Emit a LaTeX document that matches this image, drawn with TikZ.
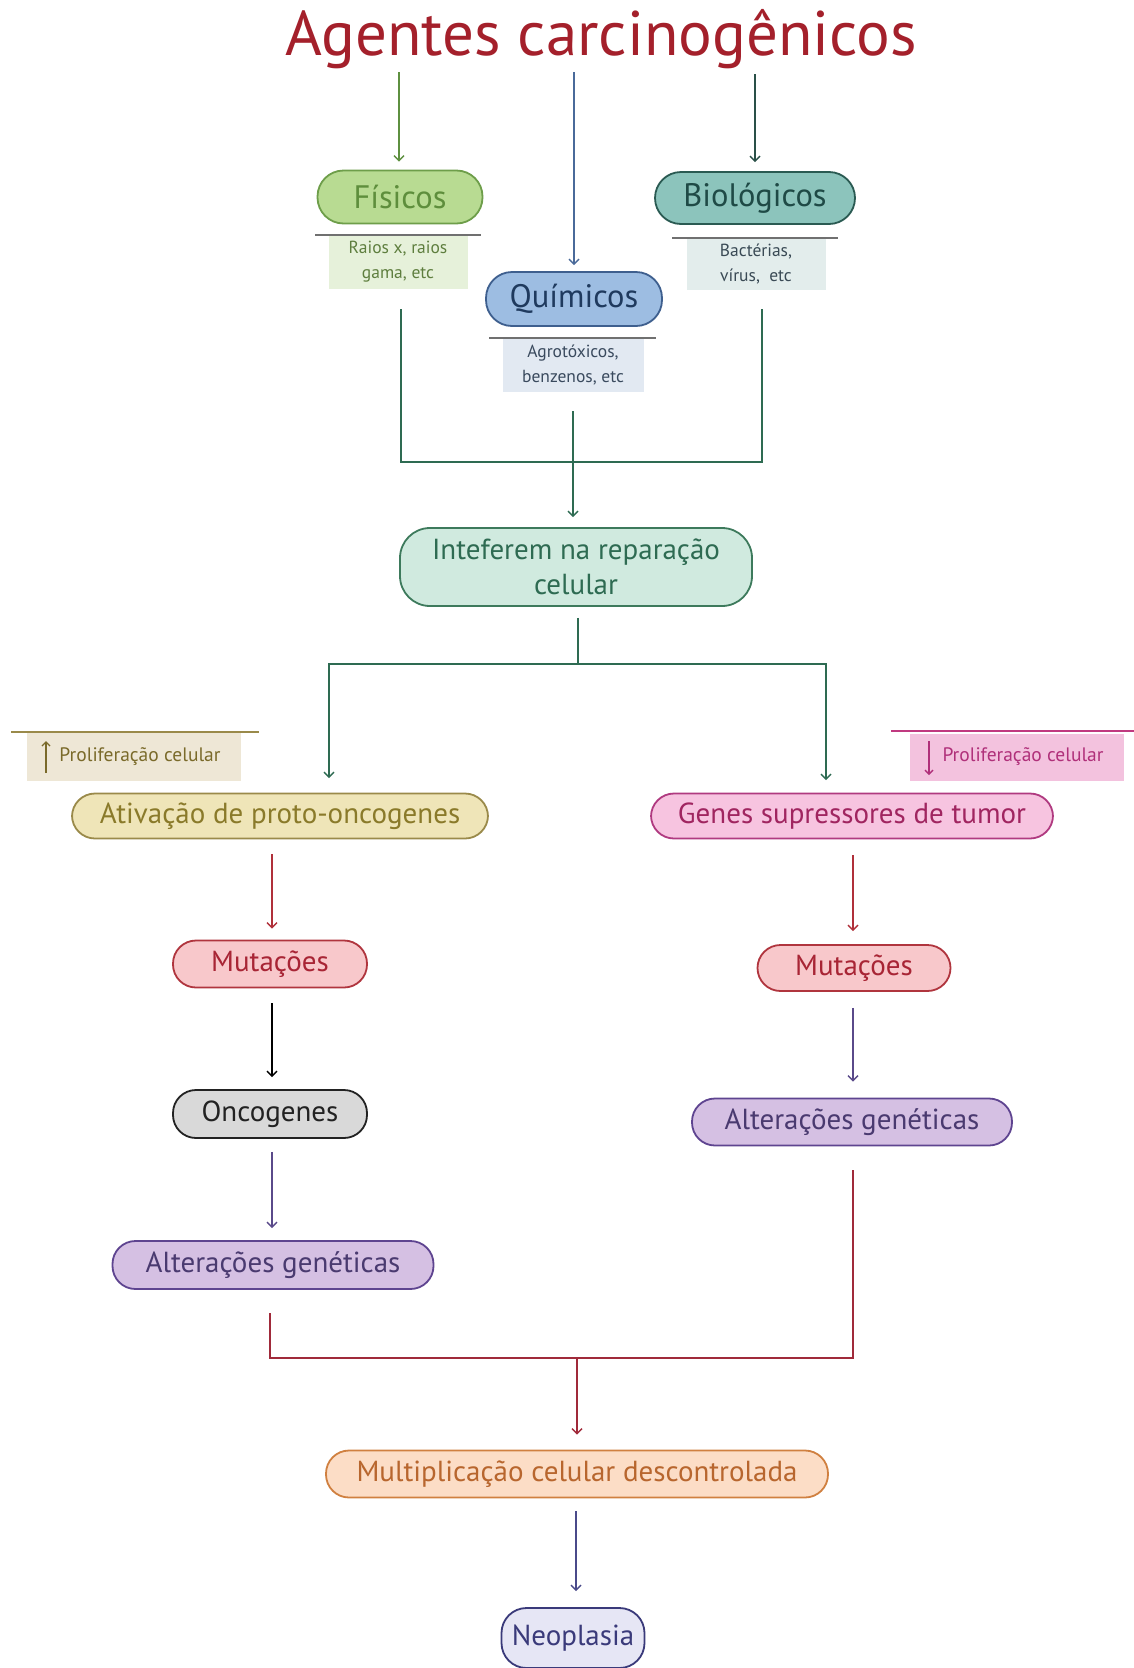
\documentclass[tikz,border=0pt]{standalone}
\usepackage{fontspec}
\setmainfont{PT Sans}
\usetikzlibrary{arrows.meta}
\definecolor{titlec}{HTML}{A4202B}
\definecolor{fisfill}{HTML}{B8DB92}\definecolor{fisdraw}{HTML}{6E9E4A}\definecolor{fistext}{HTML}{5E8E3C}
\definecolor{fisinfo}{HTML}{E6F1DA}\definecolor{fisinfot}{HTML}{5E7E3E}
\definecolor{biofill}{HTML}{8CC4BC}\definecolor{biodraw}{HTML}{2A5A52}\definecolor{biotext}{HTML}{1F4A46}
\definecolor{bioinfo}{HTML}{E3EDEC}\definecolor{bioinfot}{HTML}{3A4A55}
\definecolor{quifill}{HTML}{9DBDE2}\definecolor{quidraw}{HTML}{3E5F8E}\definecolor{quitext}{HTML}{1F3A5E}
\definecolor{quiinfo}{HTML}{E2E9F2}\definecolor{quiinfot}{HTML}{3A4A5E}
\definecolor{barc}{HTML}{707070}
\definecolor{arrA}{HTML}{5E9040}\definecolor{arrB}{HTML}{4A6A9A}\definecolor{arrC}{HTML}{2A5048}
\definecolor{dg}{HTML}{2E6B52}
\definecolor{intfill}{HTML}{D0EADF}\definecolor{intdraw}{HTML}{3D7A5C}
\definecolor{prolL}{HTML}{9A8A4A}\definecolor{prolLf}{HTML}{EEE7D6}\definecolor{prolLt}{HTML}{7A6A2A}
\definecolor{prolR}{HTML}{C03A80}\definecolor{prolRf}{HTML}{F3C2DE}\definecolor{prolRt}{HTML}{B0307A}
\definecolor{ativfill}{HTML}{EFE5B8}\definecolor{ativdraw}{HTML}{9A8A4A}\definecolor{ativtext}{HTML}{8A7A2A}
\definecolor{genfill}{HTML}{F7C4E0}\definecolor{gendraw}{HTML}{B03A80}\definecolor{gentext}{HTML}{A02560}
\definecolor{redarr}{HTML}{B0303A}
\definecolor{mutfill}{HTML}{F8C8CB}\definecolor{mutdraw}{HTML}{B0353E}\definecolor{muttext}{HTML}{A82535}
\definecolor{oncfill}{HTML}{D9D9D9}\definecolor{oncdraw}{HTML}{222222}
\definecolor{purarr}{HTML}{5A4A8A}
\definecolor{altfill}{HTML}{D5C0E3}\definecolor{altdraw}{HTML}{5E4490}\definecolor{alttext}{HTML}{4A3A70}
\definecolor{botline}{HTML}{A02A3A}
\definecolor{multfill}{HTML}{FCDDC6}\definecolor{multdraw}{HTML}{D08040}\definecolor{multtext}{HTML}{B8662E}
\definecolor{neoarr}{HTML}{4A4A8A}
\definecolor{neofill}{HTML}{E6E6F5}\definecolor{neodraw}{HTML}{3A3A7A}
\begin{document}
\begin{tikzpicture}[x=1pt,y=-1pt,
  pill/.style={draw, line width=1.8pt, rounded corners=#1, inner sep=0pt, align=center},
  info/.style={inner sep=0pt, align=center, font=\fontsize{17.5}{25}\selectfont},
  bigf/.style={font=\fontsize{32.5}{34}\selectfont},
  midf/.style={font=\fontsize{29}{35}\selectfont},
  arr/.style={-{Straight Barb[length=5pt,width=10pt,line width=1.4pt]}, line width=1.4pt},
  ln/.style={line width=1.6pt},
  bar/.style={line width=2.2pt}]
\useasboundingbox (0,0) rectangle (1134,1668);
\fill[white] (0,0) rectangle (1134,1668);

% title
\node[text=titlec, font=\fontsize{63}{66}\selectfont, inner sep=0pt] (title) at (601,39) {Agentes carcinogênicos};
\coordinate (tA) at (399,72);
\coordinate (tB) at (574,72);
\coordinate (tC) at (755,74);

% category nodes
\node[pill=26pt, bigf, fill=fisfill, draw=fisdraw, text=fistext, minimum width=165pt, minimum height=53pt] (fis) at (400,197) {Físicos};
\node[pill=26pt, bigf, fill=biofill, draw=biodraw, text=biotext, minimum width=200pt, minimum height=52pt] (bio) at (755,198) {Biológicos};
\node[pill=26pt, bigf, fill=quifill, draw=quidraw, text=quitext, minimum width=176pt, minimum height=54pt] (qui) at (574,299) {Químicos};

% info boxes
\node[info, fill=fisinfo, text=fisinfot, minimum width=139pt, minimum height=53pt] (fisi) at (398,262) {Raios x, raios\\gama, etc};
\node[info, fill=bioinfo, text=bioinfot, minimum width=139pt, minimum height=52pt] (bioi) at (756,264) {Bactérias,\\vírus,\ \ etc};
\node[info, fill=quiinfo, text=quiinfot, minimum width=141pt, minimum height=54pt] (quii) at (573,365) {Agrotóxicos,\\benzenos, etc};
\draw[bar, barc] (fisi.north west) ++(-13,0) -- ++(166,0);
\draw[bar, barc] (bioi.north west) ++(-14,0) -- ++(166,0);
\draw[bar, barc] (quii.north west) ++(-13,0) -- ++(167,0);

% arrows from title
\draw[arr, arrA, shorten >=8pt] (tA) -- (tA |- fis.north);
\draw[arr, arrB, shorten >=6pt] (tB) -- (tB |- qui.north);
\draw[arr, arrC, shorten >=9pt] (tC) -- (tC |- bio.north);

% join to "Inteferem"
\node[pill=30pt, fill=intfill, draw=intdraw, text=dg, midf, minimum width=352pt, minimum height=78pt] (int) at (576,567) {Inteferem na reparação\\celular};
\coordinate (jL) at (401,309);
\coordinate (jR) at (762,309);
\coordinate (jM) at (574,462);
\draw[ln, dg] (jL) |- (jM) -| (jR);
\draw[ln, dg, arr, shorten <=19pt, shorten >=10pt] (quii.south) -- (quii.south |- int.north);

% split
\node[pill=23pt, midf, fill=ativfill, draw=ativdraw, text=ativtext, minimum width=416pt, minimum height=45pt] (ativ) at (280,816) {Ativação de proto-oncogenes};
\node[pill=23pt, midf, fill=genfill, draw=gendraw, text=gentext, minimum width=402pt, minimum height=45pt] (gen) at (852,816) {Genes supressores de tumor};
\coordinate (split) at (578,664);
\coordinate (inL) at (329,778);
\coordinate (inR) at (826,780);
\draw[ln, dg] ([yshift=-11pt]int.south -| split) -- (split);
\draw[dg, arr] (split) -| (inL);
\draw[dg, arr] (split) -| (inR);

% proliferation tags
\node[fill=prolLf, text=prolLt, font=\fontsize{19.5}{21}\selectfont, minimum width=214pt, minimum height=48pt, inner sep=0pt] (tagL) at (134,757) {\hspace*{12pt}Proliferação celular};
\draw[line width=2pt, prolL] (11,732) -- (259,732);
\draw[prolLt, line width=1.6pt, -{Straight Barb[length=4pt,width=8pt,line width=1.4pt]}] (46,773) -- (46,741);
\node[fill=prolRf, text=prolRt, font=\fontsize{19.5}{21}\selectfont, minimum width=214pt, minimum height=47pt, inner sep=0pt] (tagR) at (1017,757) {\hspace*{12pt}Proliferação celular};
\draw[line width=2pt, prolR] (891,731) -- (1134,731);
\draw[prolRt, line width=1.6pt, -{Straight Barb[length=4pt,width=8pt,line width=1.4pt]}] (929,741) -- (929,775);

% left chain
\node[pill=23pt, midf, fill=mutfill, draw=mutdraw, text=muttext, minimum width=194pt, minimum height=47pt] (mutL) at (270,964) {Mutações};
\node[pill=23pt, midf, fill=oncfill, draw=oncdraw, text=oncdraw, minimum width=194pt, minimum height=48pt] (onc) at (270,1114) {Oncogenes};
\node[pill=23pt, midf, fill=altfill, draw=altdraw, text=alttext, minimum width=321pt, minimum height=48pt] (altL) at (273,1265) {Alterações genéticas};
\draw[redarr, arr, shorten <=15pt, shorten >=11pt] (ativ.south -| 272,0) -- (mutL.north -| 272,0);
\draw[black, arr, shorten <=15pt, shorten >=12pt] (mutL.south -| 272,0) -- (onc.north -| 272,0);
\draw[purarr, arr, shorten <=13pt, shorten >=12pt] (onc.south -| 272,0) -- (altL.north -| 272,0);

% right chain
\node[pill=23pt, midf, fill=mutfill, draw=mutdraw, text=muttext, minimum width=193pt, minimum height=46pt] (mutR) at (854,968) {Mutações};
\node[pill=23pt, midf, fill=altfill, draw=altdraw, text=alttext, minimum width=320pt, minimum height=47pt] (altR) at (852,1122) {Alterações genéticas};
\draw[redarr, arr, shorten <=16pt, shorten >=13pt] (gen.south -| 853,0) -- (mutR.north -| 853,0);
\draw[purarr, arr, shorten <=16pt, shorten >=16pt] (mutR.south -| 853,0) -- (altR.north -| 853,0);

% merge
\node[pill=23pt, midf, fill=multfill, draw=multdraw, text=multtext, minimum width=502pt, minimum height=47pt] (mult) at (577,1474) {Multiplicação celular descontrolada};
\coordinate (mL) at (270,1313);
\coordinate (mR) at (853,1170);
\coordinate (mM) at (577,1358);
\draw[ln, botline] (mL) |- (mM) -| (mR);
\draw[botline, arr, shorten >=15pt] (mM) -- (mult.north);

% neoplasia
\node[pill=25pt, midf, fill=neofill, draw=neodraw, text=neodraw, minimum width=143pt, minimum height=60pt] (neo) at (573,1638) {Neoplasia};
\draw[neoarr, arr, shorten <=13pt, shorten >=16pt] (mult.south -| 576,0) -- (neo.north -| 576,0);
\end{tikzpicture}
\end{document}
